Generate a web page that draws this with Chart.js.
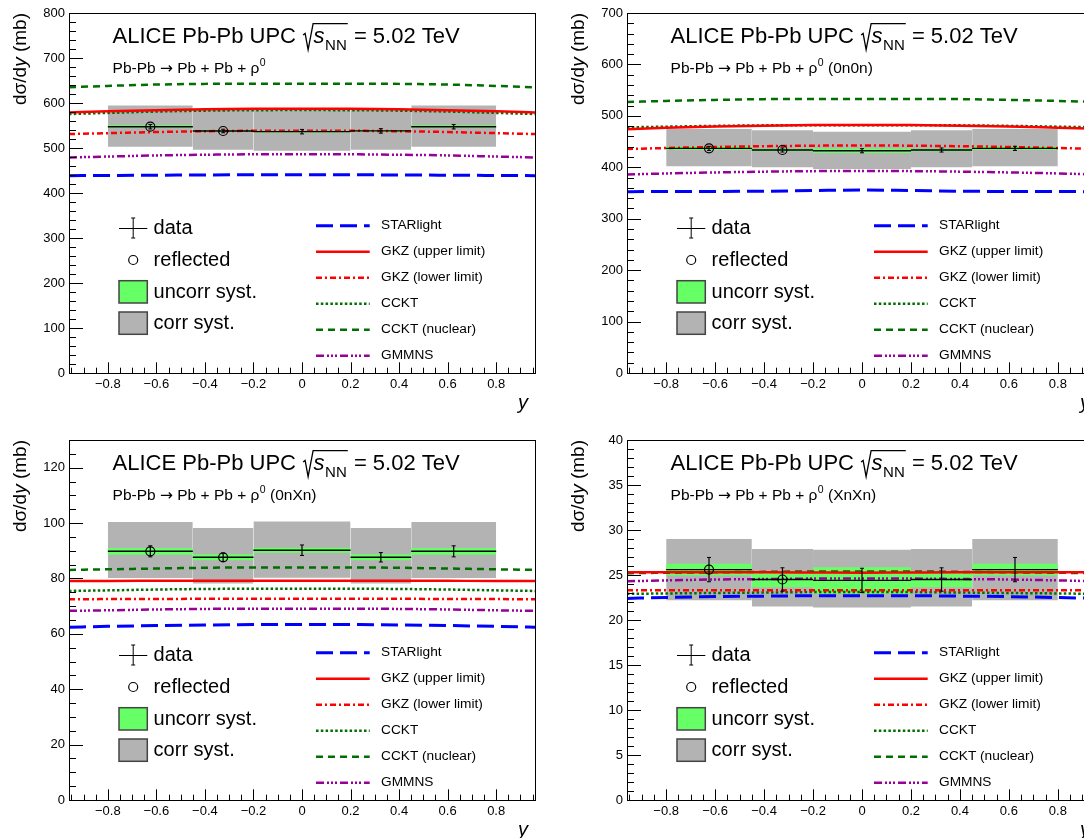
<!DOCTYPE html>
<html><head><meta charset="utf-8">
<script src="https://cdn.jsdelivr.net/npm/chart.js@4"></script>
<style>
html,body{margin:0;padding:0;background:#fff;overflow:hidden;}
#wrap{position:relative;width:1084px;height:838px;overflow:hidden;background:#fff;}
canvas{position:absolute;}
</style></head><body><div id="wrap">
<canvas id="c0" width="560" height="420" style="left:0px;top:0px"></canvas>
<canvas id="c1" width="560" height="420" style="left:560px;top:0px"></canvas>
<canvas id="c2" width="560" height="418" style="left:0px;top:420px"></canvas>
<canvas id="c3" width="560" height="418" style="left:560px;top:420px"></canvas>
</div>
<script>
// ---------- data ----------
const binLow    = [-0.8, -0.45, -0.2, 0.2, 0.45];
const binHigh   = [-0.45, -0.2, 0.2, 0.45, 0.8];
const binCenter = [-0.625, -0.325, 0, 0.325, 0.625];
const reflectedBins = [0, 1];
const xTickValues = [-0.8, -0.6, -0.4, -0.2, 0, 0.2, 0.4, 0.6, 0.8];
const modelX = [-0.96, -0.8, -0.6, -0.4, -0.2, 0, 0.2, 0.4, 0.6, 0.8, 0.96];
const modelNames = ['STARlight', 'GKZ (upper limit)', 'GKZ (lower limit)', 'CCKT', 'CCKT (nuclear)', 'GMMNS'];

// panel 1 : all
const allYTicks   = [0, 100, 200, 300, 400, 500, 600, 700, 800];
const allValue    = [547.3, 537.8, 536.3, 538.0, 547.3];
const allStat     = [5, 4, 5, 5, 5];
const allUncorr   = [3, 2, 2, 2, 3];
const allCorrHigh = [594.7, 586.0, 586.0, 586.0, 594.7];
const allCorrLow  = [503.0, 496.0, 494.0, 496.0, 503.0];
const allStarlight = [438.5, 439.0, 439.6, 440.1, 440.5, 440.7, 440.5, 440.1, 439.6, 439.0, 438.5];
const allGkzUpper  = [579.0, 581.5, 584.0, 586.0, 587.0, 587.2, 587.0, 586.0, 584.0, 581.5, 579.0];
const allGkzLower  = [531.0, 533.0, 535.5, 537.3, 538.3, 538.5, 538.3, 537.3, 535.5, 533.0, 531.0];
const allCckt      = [575.5, 578.0, 581.0, 583.0, 584.0, 584.2, 584.0, 583.0, 581.0, 578.0, 575.5];
const allCcktNuc   = [635.0, 638.0, 641.0, 642.5, 643.0, 643.0, 643.0, 642.5, 641.0, 638.0, 635.0];
const allGmmns     = [479.0, 481.0, 483.5, 485.0, 486.0, 486.2, 486.0, 485.0, 483.5, 481.0, 479.0];

// panel 2 : 0n0n
const n00YTicks   = [0, 100, 200, 300, 400, 500, 600, 700];
const n00Value    = [436.8, 433.6, 432.2, 433.6, 436.8];
const n00Stat     = [4, 4, 4, 4, 4];
const n00Uncorr   = [3, 2.5, 4.5, 2.5, 3];
const n00CorrHigh = [474.4, 471.8, 469.0, 471.8, 474.4];
const n00CorrLow  = [401.8, 399.9, 396.6, 399.9, 401.8];
const n00Starlight = [352.6, 352.8, 353.0, 353.5, 354.8, 355.8, 354.8, 353.5, 353.0, 352.8, 352.6];
const n00GkzUpper  = [474.0, 477.0, 479.5, 481.0, 482.0, 482.2, 482.0, 481.0, 479.5, 477.0, 475.0];
const n00GkzLower  = [435.5, 437.5, 439.5, 441.0, 442.0, 442.6, 442.0, 441.0, 439.5, 437.5, 435.5];
const n00Cckt      = [477.6, 479.0, 480.5, 481.5, 481.8, 481.8, 481.8, 481.5, 480.5, 479.0, 477.6];
const n00CcktNuc   = [527.0, 529.0, 531.0, 532.5, 533.0, 533.0, 533.0, 532.5, 531.0, 529.0, 527.0];
const n00Gmmns     = [386.0, 388.0, 390.0, 391.5, 392.5, 393.0, 392.5, 391.5, 390.0, 388.0, 386.0];

// panel 3 : 0nXn
const n0xYTicks   = [0, 20, 40, 60, 80, 100, 120];
const n0xValue    = [89.8, 87.65, 90.2, 87.65, 89.8];
const n0xStat     = [2.0, 1.5, 1.9, 1.7, 2.0];
const n0xUncorr   = [1.2, 1.05, 0.9, 1.05, 1.2];
const n0xCorrHigh = [100.4, 98.2, 100.6, 98.2, 100.4];
const n0xCorrLow  = [80.2, 78.2, 80.3, 78.2, 80.2];
const n0xStarlight = [62.4, 62.7, 63.0, 63.2, 63.35, 63.4, 63.35, 63.2, 63.0, 62.7, 62.4];
const n0xGkzUpper  = [79.1, 79.1, 79.15, 79.2, 79.2, 79.2, 79.2, 79.2, 79.15, 79.1, 79.1];
const n0xGkzLower  = [72.5, 72.55, 72.6, 72.65, 72.7, 72.7, 72.7, 72.65, 72.6, 72.55, 72.5];
const n0xCckt      = [75.5, 75.7, 76.0, 76.2, 76.3, 76.3, 76.3, 76.2, 76.0, 75.7, 75.5];
const n0xCcktNuc   = [83.1, 83.3, 83.6, 83.85, 84.0, 84.0, 84.0, 83.85, 83.6, 83.3, 83.1];
const n0xGmmns     = [68.3, 68.5, 68.8, 69.0, 69.1, 69.1, 69.1, 69.0, 68.8, 68.5, 68.3];

// panel 4 : XnXn
const nxxYTicks   = [0, 5, 10, 15, 20, 25, 30, 35, 40];
const nxxValue    = [25.6, 24.5, 24.4, 24.5, 25.6];
const nxxStat     = [1.35, 1.3, 1.35, 1.3, 1.35];
const nxxUncorr   = [0.65, 0.85, 1.45, 0.85, 0.65];
const nxxCorrHigh = [29.0, 27.9, 27.8, 27.9, 29.0];
const nxxCorrLow  = [22.2, 21.5, 21.4, 21.5, 22.2];
const nxxStarlight = [22.4, 22.5, 22.6, 22.65, 22.7, 22.7, 22.7, 22.65, 22.6, 22.5, 22.4];
const nxxGkzUpper  = [25.3, 25.3, 25.3, 25.3, 25.28, 25.25, 25.28, 25.3, 25.3, 25.3, 25.3];
const nxxGkzLower  = [23.3, 23.3, 23.3, 23.3, 23.3, 23.3, 23.3, 23.3, 23.3, 23.3, 23.3];
const nxxCckt      = [22.9, 22.95, 23.0, 23.05, 23.1, 23.1, 23.1, 23.05, 23.0, 22.95, 22.9];
const nxxCcktNuc   = [25.2, 25.25, 25.3, 25.35, 25.4, 25.4, 25.4, 25.35, 25.3, 25.25, 25.2];
const nxxGmmns     = [24.3, 24.4, 24.5, 24.55, 24.6, 24.6, 24.6, 24.55, 24.5, 24.4, 24.3];

// ---------- styles ----------
const FONT = '"Liberation Sans", Arial, Helvetica, sans-serif';
const modelStyles = [
  {color:'#0000ff', width:3,   dash:[17,7]},
  {color:'#ff0000', width:2.5, dash:[]},
  {color:'#ff0000', width:2.5, dash:[6,3,2,3]},
  {color:'#006e00', width:2.5, dash:[2.5,2.3]},
  {color:'#006e00', width:2.5, dash:[7,5]},
  {color:'#990099', width:2.5, dash:[8,3,2,2,2,2,2,3]}
];
const GREEN = '#66ff66', GRAY = '#b3b3b3';

const panels = [
  {id:'c0', padL:9, padT:13, padR:25, padB:17, yMax:800, yTicks:allYTicks, yMajor:100, yMinor:20, suffix:'',
   value:allValue, stat:allStat, uncorr:allUncorr, corrHigh:allCorrHigh, corrLow:allCorrLow,
   models:[allStarlight, allGkzUpper, allGkzLower, allCckt, allCcktNuc, allGmmns]},
  {id:'c1', padL:7, padT:13, padR:23, padB:17, yMax:700, yTicks:n00YTicks, yMajor:100, yMinor:20, suffix:' (0n0n)',
   value:n00Value, stat:n00Stat, uncorr:n00Uncorr, corrHigh:n00CorrHigh, corrLow:n00CorrLow,
   models:[n00Starlight, n00GkzUpper, n00GkzLower, n00Cckt, n00CcktNuc, n00Gmmns]},
  {id:'c2', padL:9, padT:20, padR:25, padB:8, yMax:130, yTicks:n0xYTicks, yMajor:20, yMinor:5, suffix:' (0nXn)',
   value:n0xValue, stat:n0xStat, uncorr:n0xUncorr, corrHigh:n0xCorrHigh, corrLow:n0xCorrLow,
   models:[n0xStarlight, n0xGkzUpper, n0xGkzLower, n0xCckt, n0xCcktNuc, n0xGmmns]},
  {id:'c3', padL:7, padT:20, padR:23, padB:8, yMax:40, yTicks:nxxYTicks, yMajor:5, yMinor:1, suffix:' (XnXn)',
   value:nxxValue, stat:nxxStat, uncorr:nxxUncorr, corrHigh:nxxCorrHigh, corrLow:nxxCorrLow,
   models:[nxxStarlight, nxxGkzUpper, nxxGkzLower, nxxCckt, nxxCcktNuc, nxxGmmns]}
];

function buildDatasets(P) {
  const ds = [];
  const hPts = [];
  binLow.forEach((lo, i) => {
    hPts.push({x:lo, y:P.value[i]}, {x:binHigh[i], y:P.value[i]}, {x:binHigh[i], y:null});
  });
  ds.push({label:'data', data:hPts, borderColor:'#000', borderWidth:1.4, pointRadius:0, order:0, spanGaps:false, fill:false});
  const ePts = [];
  binCenter.forEach((c, i) => {
    ePts.push({x:c, y:P.value[i]-P.stat[i]}, {x:c, y:P.value[i]+P.stat[i]}, {x:c, y:null});
  });
  ds.push({label:'stat', data:ePts, borderColor:'#000', borderWidth:1.2, pointStyle:'line', pointRadius:2,
           pointBorderWidth:1, pointBorderColor:'#000', order:0, spanGaps:false, fill:false});
  ds.push({label:'reflected', data:reflectedBins.map(i => ({x:binCenter[i], y:P.value[i]})), showLine:false,
           pointStyle:'circle', pointRadius:4.5, pointBorderWidth:1.2, pointBorderColor:'#000',
           pointBackgroundColor:'rgba(0,0,0,0)', order:0});
  modelStyles.forEach((st, k) => {
    ds.push({label:modelNames[k], isModel:true, data:modelX.map((x, j) => ({x:x, y:P.models[k][j]})),
             borderColor:st.color, borderWidth:st.width, borderDash:st.dash, pointRadius:0,
             cubicInterpolationMode:'monotone', fill:false, order:1});
  });
  binLow.forEach((lo, i) => {
    ds.push({label:'uncorr', data:[{x:lo, y:P.value[i]+P.uncorr[i]}, {x:binHigh[i], y:P.value[i]+P.uncorr[i]}],
             fill:{value:P.value[i]-P.uncorr[i]}, backgroundColor:GREEN, borderColor:'rgba(0,0,0,0)',
             borderWidth:0.01, pointRadius:0, order:2});
  });
  binLow.forEach((lo, i) => {
    ds.push({label:'corr', data:[{x:lo, y:P.corrHigh[i]}, {x:binHigh[i], y:P.corrHigh[i]}],
             fill:{value:P.corrLow[i]}, backgroundColor:GRAY, borderColor:'rgba(0,0,0,0)',
             borderWidth:0.01, pointRadius:0, order:3});
  });
  return ds;
}

function makeDecor(P) {
  return {
    id:'rootDecor',
    afterDraw(chart) {
      const ctx = chart.ctx, a = chart.chartArea, xs = chart.scales.x, ys = chart.scales.y;
      const L = a.left, T = a.top, R = a.right, B = a.bottom;
      ctx.save();
      // frame
      ctx.strokeStyle = '#000'; ctx.lineWidth = 1; ctx.setLineDash([]);
      ctx.strokeRect(Math.round(L)+0.5, Math.round(T)+0.5, Math.round(R-L), Math.round(B-T));
      // inner ticks
      ctx.beginPath();
      const nMinor = Math.round(P.yMax / P.yMinor);
      for (let k = 0; k <= nMinor; k++) {
        const v = k * P.yMinor;
        const major = Math.abs(v / P.yMajor - Math.round(v / P.yMajor)) < 1e-6;
        const py = Math.round(ys.getPixelForValue(v)) + 0.5;
        ctx.moveTo(L, py); ctx.lineTo(L + (major ? 14 : 7), py);
      }
      for (let k = -19; k <= 19; k++) {
        const v = k * 0.05;
        const px = Math.round(xs.getPixelForValue(v)) + 0.5;
        const major = (k % 4 === 0);
        ctx.moveTo(px, B); ctx.lineTo(px, B - (major ? 10.7 : 5.3));
      }
      ctx.stroke();

      ctx.fillStyle = '#000';
      // y-axis title (rotated, aligned to top)
      ctx.save();
      ctx.translate(L - 48.7, T);
      ctx.rotate(-Math.PI / 2);
      ctx.textBaseline = 'middle';
      const fN = '19px ' + FONT, fI = 'italic 19px ' + FONT;
      ctx.font = fN; const w1 = ctx.measureText('d\u03C3/d').width;
      ctx.font = fI; const w2 = ctx.measureText('y').width;
      ctx.font = fN; const w3 = ctx.measureText(' (mb)').width;
      let tx = -(w1 + w2 + w3);
      ctx.font = fN; ctx.fillText('d\u03C3/d', tx, 0); tx += w1;
      ctx.font = fI; ctx.fillText('y', tx, 0); tx += w2;
      ctx.font = fN; ctx.fillText(' (mb)', tx, 0);
      ctx.restore();

      // x-axis title
      ctx.font = 'italic 20px ' + FONT; ctx.textAlign = 'right'; ctx.textBaseline = 'middle';
      ctx.fillText('y', R - 7, B + 30);
      ctx.textAlign = 'left';

      // main title
      const X0 = L + 43.6, by = T + 30;
      ctx.textBaseline = 'alphabetic';
      ctx.font = '22px ' + FONT;
      let xx = X0;
      const t1 = 'ALICE Pb-Pb UPC ';
      ctx.fillText(t1, xx, by); xx += ctx.measureText(t1).width;
      const rx = xx + 1;
      const sx = rx + 10.5;
      ctx.font = 'italic 22px ' + FONT;
      ctx.fillText('s', sx, by);
      const sW = ctx.measureText('s').width;
      ctx.font = '15px ' + FONT;
      ctx.fillText('NN', sx + sW + 0.5, by + 6.7);
      const endOver = sx + sW + 0.5 + ctx.measureText('NN').width + 1;
      ctx.beginPath(); ctx.lineWidth = 1.3;
      ctx.moveTo(rx, by - 8); ctx.lineTo(rx + 2, by - 9.5); ctx.lineTo(rx + 5, T + 36.7);
      ctx.lineTo(rx + 10, T + 10.7); ctx.lineTo(endOver, T + 10.7);
      ctx.stroke();
      ctx.font = '22px ' + FONT;
      ctx.fillText(' = 5.02 TeV', endOver, by);

      // subtitle
      const sy = T + 60;
      let qx = X0;
      ctx.font = '15.5px ' + FONT;
      ctx.fillText('Pb-Pb ', qx, sy); qx += ctx.measureText('Pb-Pb ').width;
      ctx.font = '15.5px "DejaVu Sans", ' + FONT;
      ctx.fillText('\u2192', qx, sy); qx += ctx.measureText('\u2192').width;
      ctx.font = '15.5px ' + FONT;
      const s2 = ' Pb + Pb + \u03C1';
      ctx.fillText(s2, qx, sy); qx += ctx.measureText(s2).width;
      ctx.font = '10.5px ' + FONT;
      ctx.fillText('0', qx + 0.5, sy - 7.5); qx += ctx.measureText('0').width + 0.5;
      ctx.font = '15.5px ' + FONT;
      if (P.suffix) ctx.fillText(P.suffix, qx, sy);

      // left legend
      const cx = L + 64.2;
      ctx.lineWidth = 1; ctx.strokeStyle = '#000';
      ctx.beginPath();
      ctx.moveTo(L + 50, T + 215.5); ctx.lineTo(L + 78.3, T + 215.5);
      ctx.moveTo(cx, T + 205); ctx.lineTo(cx, T + 225);
      ctx.moveTo(cx - 2, T + 205); ctx.lineTo(cx + 2, T + 205);
      ctx.moveTo(cx - 2, T + 225); ctx.lineTo(cx + 2, T + 225);
      ctx.stroke();
      ctx.beginPath(); ctx.lineWidth = 1.2;
      ctx.arc(cx, T + 247, 4.5, 0, Math.PI * 2); ctx.stroke();
      ctx.lineWidth = 1.5; ctx.strokeStyle = '#444';
      ctx.fillStyle = GREEN; ctx.fillRect(L + 50, T + 267.7, 28.3, 22.3); ctx.strokeRect(L + 50, T + 267.7, 28.3, 22.3);
      ctx.fillStyle = GRAY;  ctx.fillRect(L + 50, T + 299, 28.3, 22.3);  ctx.strokeRect(L + 50, T + 299, 28.3, 22.3);
      ctx.fillStyle = '#000';
      ctx.font = '20px ' + FONT; ctx.textBaseline = 'middle';
      ctx.fillText('data', L + 84.6, T + 215);
      ctx.fillText('reflected', L + 84.6, T + 247);
      ctx.fillText('uncorr syst.', L + 84.6, T + 279.7);
      ctx.fillText('corr syst.', L + 84.6, T + 310.7);

      // right legend (model lines) from dataset styles
      const models = chart.data.datasets.filter(d => d.isModel);
      models.forEach((d, k) => {
        const ly = T + 212.7 + 26 * k;
        ctx.beginPath();
        ctx.strokeStyle = d.borderColor; ctx.lineWidth = d.borderWidth;
        ctx.setLineDash(d.borderDash || []);
        ctx.moveTo(L + 247, ly); ctx.lineTo(L + 300.7, ly);
        ctx.stroke();
        ctx.setLineDash([]);
        ctx.fillStyle = '#000'; ctx.font = '13.7px ' + FONT;
        ctx.fillText(d.label, L + 312, ly);
      });
      ctx.restore();
    }
  };
}

function fmtX(v) {
  const r = Math.round(v * 10) / 10;
  return r < 0 ? '\u2212' + String(-r) : String(r);
}

panels.forEach(P => {
  new Chart(document.getElementById(P.id), {
    type:'line',
    data:{datasets:buildDatasets(P)},
    options:{
      responsive:false, animation:false, events:[],
      layout:{padding:{left:P.padL, top:P.padT, right:P.padR, bottom:P.padB}},
      plugins:{legend:{display:false}, tooltip:{enabled:false}},
      scales:{
        x:{type:'linear', min:-0.96, max:0.96,
           afterBuildTicks:s => { s.ticks = xTickValues.map(v => ({value:v})); },
           afterFit:s => { s.height = 30; },
           grid:{display:false, drawTicks:false}, border:{display:false},
           ticks:{font:{family:FONT, size:13}, color:'#000', padding:4, autoSkip:false, maxRotation:0, callback:v => fmtX(v)}},
        y:{type:'linear', min:0, max:P.yMax,
           afterBuildTicks:s => { s.ticks = P.yTicks.map(v => ({value:v})); },
           afterFit:s => { s.width = 60; },
           grid:{display:false, drawTicks:false}, border:{display:false},
           ticks:{font:{family:FONT, size:13}, color:'#000', padding:4, autoSkip:false, callback:v => String(v)}}
      }
    },
    plugins:[makeDecor(P)]
  });
});
</script>
</body></html>
